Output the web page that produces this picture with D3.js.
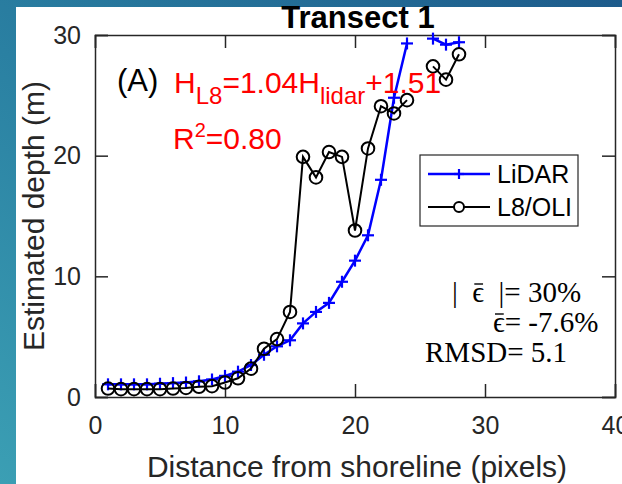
<!DOCTYPE html>
<html>
<head>
<meta charset="utf-8">
<script src="https://cdn.jsdelivr.net/npm/d3@7"></script>
<style>
  html, body { margin: 0; padding: 0; background: #fff; }
  svg { display: block; }
</style>
</head>
<body>
<svg id="chart" width="622" height="484"></svg>
<script>
// Distance from shoreline, in pixels (gap at 25 where no sample exists)
const distance = d3.range(1, 29);
const lidarDepth = [1.05, 1.05, 1.05, 1.05, 1.1, 1.15, 1.2, 1.3, 1.45, 1.75, 2.1, 2.65, 3.5, 4.2,
  4.7, 6.1, 7.05, 7.8, 9.55, 11.3, 13.4, 18.0, 24.8, 29.3, null, 29.7, 29.2, 29.4];
const l8Depth = [0.7, 0.65, 0.65, 0.65, 0.65, 0.7, 0.75, 0.85, 0.9, 1.2, 1.55, 2.35, 4.0, 4.8,
  7.05, 19.9, 18.2, 20.3, 19.9, 13.8, 20.6, 24.1, 23.5, 24.6, null, 27.4, 26.3, 28.4];
const xTicks = [0, 10, 20, 30, 40];
const yTicks = [0, 10, 20, 30];
const seriesNames = ["LiDAR", "L8/OLI"];
// Error statistics; barIdx marks the character that carries an overbar
const statLines = ["|\u2002\u03F5\u2002|= 30%", "\u03F5= -7.6%", "RMSD= 5.1"];
const statBarIdx = [2, 0, -1];

const svg = d3.select("#chart");
const W = 622, H = 484;
const m = { left: 95, right: 7, top: 35, bottom: 87 };
const sans = "'Liberation Sans', Arial, Helvetica, sans-serif";
const serif = "'Liberation Serif', 'Times New Roman', serif";

// Slide-style backdrop with the white figure panel on top
const defs = svg.append("defs");
const grad = defs.append("linearGradient").attr("id", "bg")
  .attr("x1", "0").attr("y1", "1").attr("x2", "1").attr("y2", "0");
grad.append("stop").attr("offset", "0").attr("stop-color", "#3b9fb4");
grad.append("stop").attr("offset", "0.45").attr("stop-color", "#2a80a2");
grad.append("stop").attr("offset", "1").attr("stop-color", "#1d5b8b");
svg.append("rect").attr("width", W).attr("height", H).attr("fill", "url(#bg)");
svg.append("rect").attr("x", 16).attr("y", 7).attr("width", W - 16).attr("height", H - 7).attr("fill", "#fff");

const x = d3.scaleLinear().domain([0, 40]).range([m.left, W - m.right]);
const y = d3.scaleLinear().domain([0, 30]).range([H - m.bottom, m.top]);

const axisColor = "#262626";
const tickLen = 13;

// Axes with inward ticks on every side
const g = svg.append("g");
g.append("g").attr("transform", `translate(0,${y(0)})`)
  .call(d3.axisBottom(x).tickValues(xTicks).tickSize(-tickLen).tickPadding(19).tickFormat(d3.format("d")));
g.append("g").attr("transform", `translate(0,${y(30)})`)
  .call(d3.axisTop(x).tickValues(xTicks).tickSize(-tickLen).tickFormat(""));
g.append("g").attr("transform", `translate(${x(0)},0)`)
  .call(d3.axisLeft(y).tickValues(yTicks).tickSize(-tickLen).tickPadding(14).tickFormat(d3.format("d")));
g.append("g").attr("transform", `translate(${x(40)},0)`)
  .call(d3.axisRight(y).tickValues(yTicks).tickSize(-tickLen).tickFormat(""));
g.selectAll(".domain").attr("stroke", axisColor).attr("stroke-width", 1.5);
g.selectAll(".tick line").attr("stroke", axisColor).attr("stroke-width", 1.5);
g.selectAll(".tick text").attr("fill", "#262626").style("font-family", sans).style("font-size", "25px");

// Series
const pts = (vals) => distance.map((d, i) => ({ x: d, y: vals[i] }));
const line = d3.line().defined(d => d.y !== null).x(d => x(d.x)).y(d => y(d.y));

function plus(sel, size, color) {
  sel.each(function () {
    const gg = d3.select(this);
    gg.append("line").attr("x1", -size).attr("x2", size).attr("y1", 0).attr("y2", 0);
    gg.append("line").attr("x1", 0).attr("x2", 0).attr("y1", -size).attr("y2", size);
  }).attr("stroke", color).attr("stroke-width", 2.2);
}

const lidarPts = pts(lidarDepth);
svg.append("path").datum(lidarPts).attr("d", line)
  .attr("fill", "none").attr("stroke", "#0000ff").attr("stroke-width", 2.5);
svg.append("g").selectAll("g").data(lidarPts.filter(d => d.y !== null)).join("g")
  .attr("transform", d => `translate(${x(d.x)},${y(d.y)})`)
  .call(plus, 6, "#0000ff");

const l8Pts = pts(l8Depth);
svg.append("path").datum(l8Pts).attr("d", line)
  .attr("fill", "none").attr("stroke", "#000").attr("stroke-width", 2);
svg.append("g").selectAll("circle").data(l8Pts.filter(d => d.y !== null)).join("circle")
  .attr("cx", d => x(d.x)).attr("cy", d => y(d.y)).attr("r", 6.3)
  .attr("fill", "none").attr("stroke", "#000").attr("stroke-width", 2);

// Title and axis labels
svg.append("text").attr("x", 358).attr("y", 28).attr("text-anchor", "middle")
  .style("font-family", sans).style("font-size", "31px").style("font-weight", "bold")
  .attr("fill", "#000").text("Transect 1");
svg.append("text").attr("x", 357).attr("y", 477).attr("text-anchor", "middle")
  .style("font-family", sans).style("font-size", "30px").attr("fill", "#262626")
  .text("Distance from shoreline (pixels)");
svg.append("text").attr("transform", `translate(44,${(y(0) + y(30)) / 2}) rotate(-90)`)
  .attr("text-anchor", "middle")
  .style("font-family", sans).style("font-size", "30px").attr("fill", "#262626")
  .text("Estimated depth (m)");

// Panel tag and regression annotation
svg.append("text").attr("x", 117).attr("y", 91)
  .style("font-family", sans).style("font-size", "31px").attr("fill", "#000").text("(A)");
const eq = svg.append("text").attr("x", 174).attr("y", 93)
  .style("font-family", sans).style("font-size", "30px").attr("fill", "#ff0000");
eq.append("tspan").text("H");
eq.append("tspan").attr("dy", 11).style("font-size", "24px").text("L8");
eq.append("tspan").attr("dy", -11).text("=1.04H");
eq.append("tspan").attr("dy", 11).style("font-size", "24px").text("lidar");
eq.append("tspan").attr("dy", -11).text("+1.51");
const r2 = svg.append("text").attr("x", 173).attr("y", 149)
  .style("font-family", sans).style("font-size", "30px").attr("fill", "#ff0000");
r2.append("tspan").text("R");
r2.append("tspan").attr("dy", -12).style("font-size", "20px").text("2");
r2.append("tspan").attr("dy", 12).text("=0.80");

// Legend
const lg = svg.append("g").attr("transform", "translate(420,155)");
lg.append("rect").attr("width", 158).attr("height", 71)
  .attr("fill", "#fff").attr("stroke", "#262626").attr("stroke-width", 1.2);
const rowsY = [19, 52];
lg.append("line").attr("x1", 8).attr("x2", 70).attr("y1", rowsY[0]).attr("y2", rowsY[0])
  .attr("stroke", "#0000ff").attr("stroke-width", 2.5);
lg.append("g").attr("transform", `translate(39,${rowsY[0]})`).datum(0).call(plus, 5, "#0000ff");
lg.append("line").attr("x1", 8).attr("x2", 70).attr("y1", rowsY[1]).attr("y2", rowsY[1])
  .attr("stroke", "#000").attr("stroke-width", 2);
lg.append("circle").attr("cx", 39).attr("cy", rowsY[1]).attr("r", 5)
  .attr("fill", "#fff").attr("stroke", "#000").attr("stroke-width", 2);
lg.selectAll("text.lab").data(seriesNames).join("text").attr("class", "lab")
  .attr("x", 77).attr("y", (d, i) => rowsY[i] + 9)
  .style("font-family", sans).style("font-size", "25px").attr("fill", "#000").text(d => d);

// Error statistics, with an overbar drawn above the mean-error symbol
const statX = [452, 493, 425];
const statY = [302, 332, 362];
svg.selectAll("text.stat").data(statLines).join("text").attr("class", "stat")
  .attr("x", (d, i) => statX[i]).attr("y", (d, i) => statY[i])
  .style("font-family", serif).style("font-size", "29px").attr("fill", "#000")
  .attr("xml:space", "preserve")
  .text(d => d)
  .each(function (d, i) {
    const k = statBarIdx[i];
    if (k < 0) return;
    const box = this.getExtentOfChar(k);
    svg.append("line")
      .attr("x1", box.x + 2).attr("x2", box.x + box.width - 1)
      .attr("y1", statY[i] - 18).attr("y2", statY[i] - 18)
      .attr("stroke", "#000").attr("stroke-width", 1.4);
  });
</script>
</body>
</html>
